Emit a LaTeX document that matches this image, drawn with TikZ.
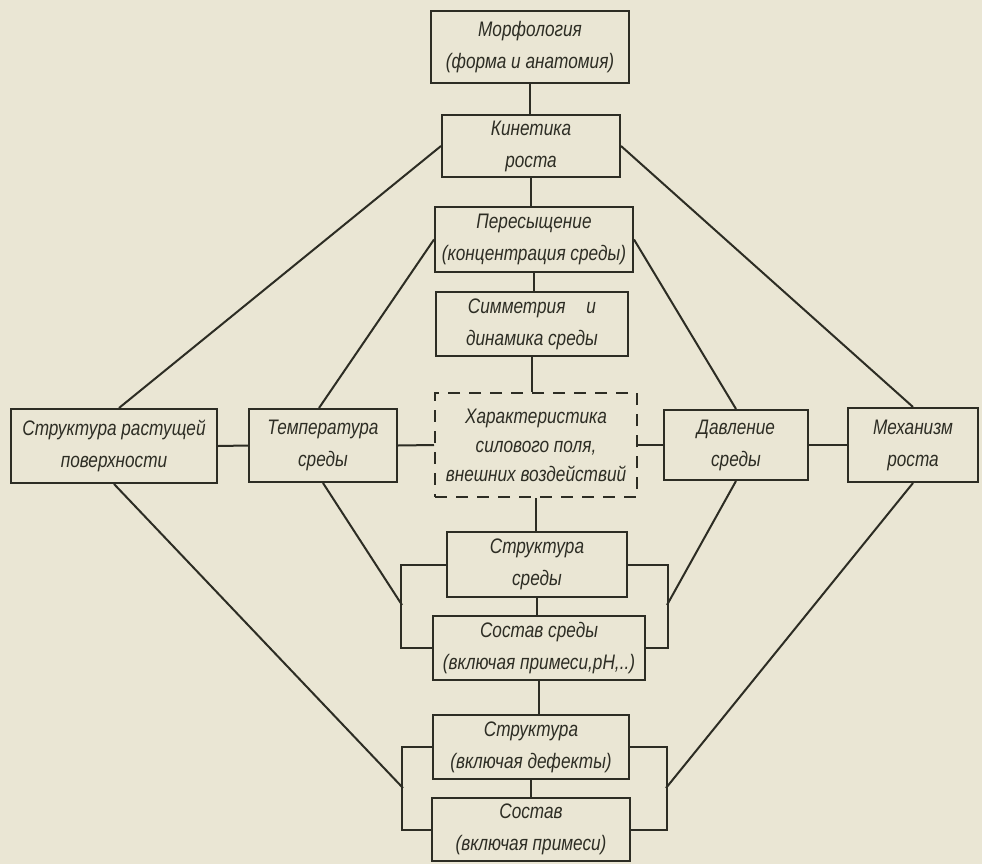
\documentclass[tikz,border=0pt]{standalone}
\usepackage{fontspec}
\setmainfont{Liberation Sans}[FakeStretch=0.82]
\definecolor{paper}{RGB}{234,230,212}
\definecolor{ink}{RGB}{45,45,36}
\begin{document}
\begin{tikzpicture}[x=1pt,y=-1pt,
  box/.style={draw=ink, line width=2pt, align=center, inner sep=0pt, text=ink,
    font=\itshape\fontsize{21}{32}\selectfont},
  dbox/.style={box, dash pattern=on 12pt off 9pt},
  conn/.style={draw=ink, line width=2pt}]
\fill[paper] (0,0) rectangle (982,864);
\useasboundingbox (0,0) rectangle (982,864);

\node[box, minimum width=198pt, minimum height=72pt] (morph) at (530,47) {Морфология\\(форма и анатомия)};
\node[box, minimum width=178pt, minimum height=62pt] (kin) at (531,146) {Кинетика\\роста};
\node[box, minimum width=198pt, minimum height=65pt] (peres) at (534,239.5) {Пересыщение\\(концентрация среды)};
\node[box, minimum width=192pt, minimum height=64pt] (sym) at (532,324) {Симметрия\quad и\\динамика среды};
\node[dbox, minimum width=202pt, minimum height=104pt, font=\itshape\fontsize{21}{29}\selectfont] (char) at (536,445) {Характеристика\\силового поля,\\внешних воздействий};
\node[box, minimum width=206pt, minimum height=74pt] (surf) at (114,446) {Структура растущей\\поверхности};
\node[box, minimum width=148pt, minimum height=73pt] (temp) at (323,445.5) {Температура\\среды};
\node[box, minimum width=144pt, minimum height=70pt] (dav) at (736,445) {Давление\\среды};
\node[box, minimum width=130pt, minimum height=74pt] (mech) at (913,445) {Механизм\\роста};
\node[box, minimum width=180pt, minimum height=65pt] (strsr) at (537,564.5) {Структура\\среды};
\node[box, minimum width=212pt, minimum height=64pt] (sostsr) at (539,648) {Состав среды\\(включая примеси,pH,..)};
\node[box, minimum width=196pt, minimum height=64pt] (strdef) at (531,747) {Структура\\(включая дефекты)};
\node[box, minimum width=198pt, minimum height=63pt] (sost) at (531,829.5) {Состав\\(включая примеси)};

% central vertical chain
\draw[conn] (morph.south) -- (morph.south |- kin.north);
\draw[conn] (kin.south) -- (kin.south |- peres.north);
\draw[conn] (peres.south) -- (peres.south |- sym.north);
\draw[conn] (sym.south) -- (sym.south |- char.north);
\draw[conn] (char.south) -- (char.south |- strsr.north);
\draw[conn] (strsr.south) -- (strsr.south |- sostsr.north);
\draw[conn] (sostsr.south) -- (sostsr.south |- strdef.north);
\draw[conn] (strdef.south) -- (strdef.south |- sost.north);

% horizontal row
\draw[conn] (surf.east) -- (temp.west);
\draw[conn] (temp.east) -- (char.west);
\draw[conn] (char.east) -- (dav.west);
\draw[conn] (dav.east) -- (mech.west);

% brackets
\draw[conn] (strsr.west) -- ++(-45,0) |- (sostsr.west);
\draw[conn] (strsr.east) -- ++(40,0) |- (sostsr.east);
\draw[conn] (strdef.west) -- ++(-30,0) |- (sost.west);
\draw[conn] (strdef.east) -- ++(37,0) |- (sost.east);
\coordinate (bl1) at (402,605);
\coordinate (br1) at (667,605);
\coordinate (bl2) at (403,788);
\coordinate (br2) at (666,788);

% diagonals
\draw[conn] (kin.west) -- ([xshift=5pt]surf.north);
\draw[conn] (kin.east) -- (mech.north);
\draw[conn] (peres.west) -- ([xshift=-4pt]temp.north);
\draw[conn] (peres.east) -- (dav.north);
\draw[conn] (surf.south) -- (bl2);
\draw[conn] (temp.south) -- (bl1);
\draw[conn] (dav.south) -- (br1);
\draw[conn] (mech.south) -- (br2);
\end{tikzpicture}
\end{document}
